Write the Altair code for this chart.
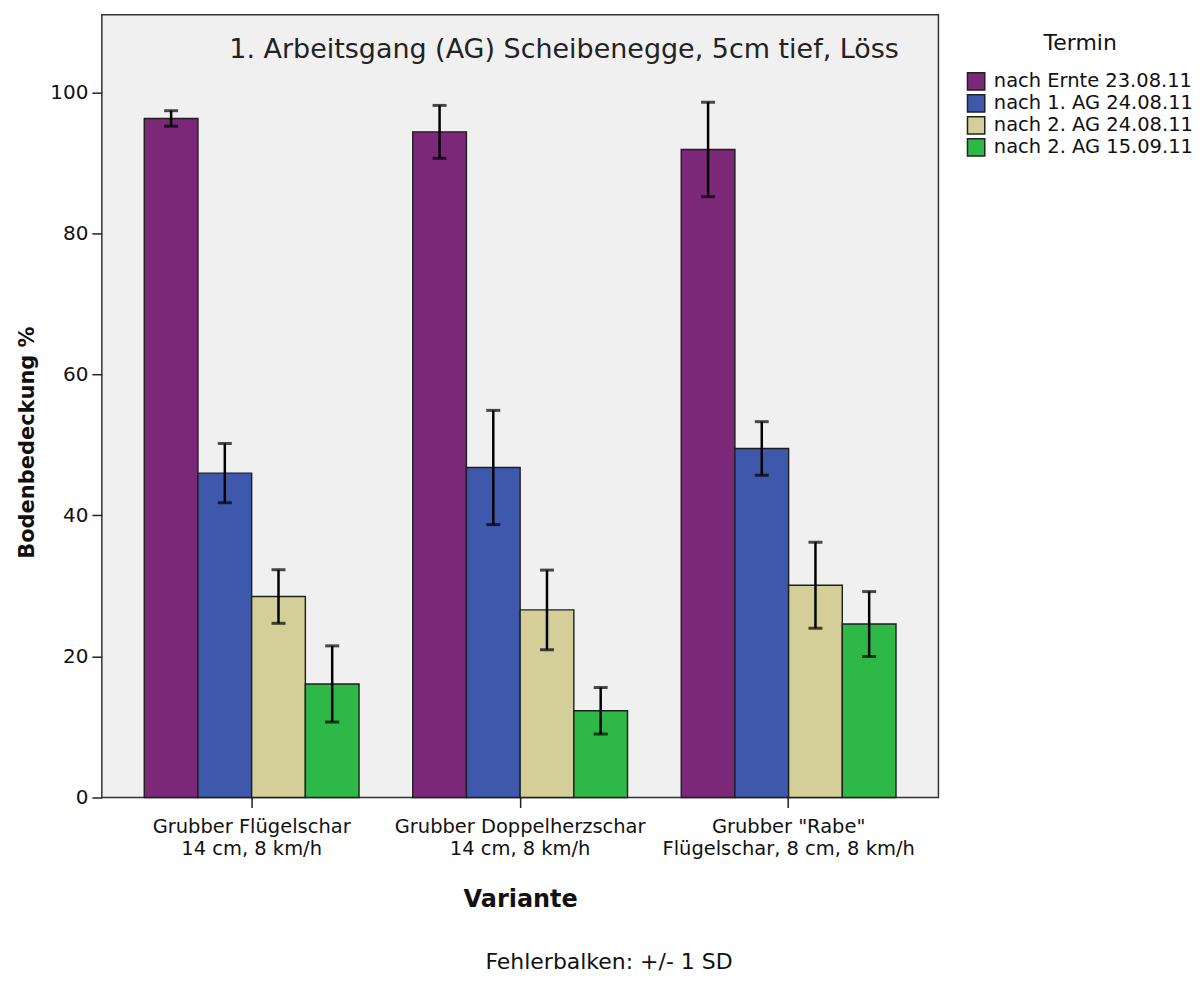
import altair as alt
import pandas as pd

# ---- data ----
varianten = [
    "Grubber Flügelschar|14 cm, 8 km/h",
    "Grubber Doppelherzschar|14 cm, 8 km/h",
    'Grubber "Rabe"|Flügelschar, 8 cm, 8 km/h',
]
termine = [
    "nach Ernte 23.08.11",
    "nach 1. AG 24.08.11",
    "nach 2. AG 24.08.11",
    "nach 2. AG 15.09.11",
]
mean_ernte = [96.3, 94.4, 91.9]
mean_ag1 = [46.0, 46.8, 49.5]
mean_ag2a = [28.5, 26.6, 30.1]
mean_ag2b = [16.1, 12.3, 24.6]
sd_ernte = [1.1, 3.75, 6.7]
sd_ag1 = [4.2, 8.1, 3.8]
sd_ag2a = [3.8, 5.65, 6.1]
sd_ag2b = [5.4, 3.3, 4.6]
farben = ["#7B2878", "#3E58AC", "#D4CF98", "#2EB848"]

means = [mean_ernte, mean_ag1, mean_ag2a, mean_ag2b]
sds = [sd_ernte, sd_ag1, sd_ag2a, sd_ag2b]

rows = []
for ti, t in enumerate(termine):
    for vi, v in enumerate(varianten):
        m = means[ti][vi]
        s = sds[ti][vi]
        rows.append({"Variante": v, "Termin": t, "Wert": m, "lo": m - s, "hi": m + s})
df = pd.DataFrame(rows)

FONT = "DejaVu Sans"
W, H = 838, 784

x_enc = alt.X(
    "Variante:N",
    sort=varianten,
    scale=alt.Scale(paddingInner=0.2, paddingOuter=0.158),
    axis=alt.Axis(
        title="Variante",
        labelExpr="split(datum.label, '|')",
        labelAngle=0,
        labelLimit=0,
        labelFont=FONT,
        labelFontSize=19.5,
        labelLineHeight=22,
        labelColor="#111",
        labelPadding=10,
        tickSize=10,
        tickColor="#222",
        tickWidth=1.5,
        domain=False,
        titleFont=FONT,
        titleFontSize=24,
        titleFontWeight="bold",
        titleColor="#111",
        titlePadding=30,
    ),
)
xoff = alt.XOffset("Termin:N", sort=termine)

y_scale = alt.Scale(domain=[0, 111], nice=False, zero=True)

bars = alt.Chart(df).mark_bar(stroke="#1e1e1e", strokeWidth=1.4).encode(
    x=x_enc,
    xOffset=xoff,
    y=alt.Y(
        "Wert:Q",
        scale=y_scale,
        axis=alt.Axis(
            title="Bodenbedeckung %",
            values=[0, 20, 40, 60, 80, 100],
            grid=False,
            domain=False,
            tickSize=10,
            tickColor="#222",
            tickWidth=1.5,
            labelFont=FONT,
            labelFontSize=20,
            labelColor="#111",
            labelPadding=4,
            titleFont=FONT,
            titleFontSize=21,
            titleFontWeight="bold",
            titleColor="#111",
            titleX=-74,
            titleY=428,
            titleAngle=270,
            titleAlign="center",
            titleBaseline="middle",
        ),
    ),
    color=alt.Color(
        "Termin:N",
        sort=termine,
        scale=alt.Scale(domain=termine, range=farben),
        legend=alt.Legend(
            title="Termin",
            orient="none",
            legendX=866,
            legendY=18,
            titleFont=FONT,
            titleFontSize=22,
            titleFontWeight="normal",
            titleColor="#111",
            titleAnchor="middle",
            titlePadding=17,
            labelFont=FONT,
            labelFontSize=19.5,
            labelColor="#111",
            labelLimit=0,
            labelOffset=8,
            symbolType="square",
            symbolSize=300,
            symbolStrokeColor="#222",
            symbolStrokeWidth=1.5,
            rowPadding=-2,
            symbolOpacity=1,
        ),
    ),
)

rules = alt.Chart(df).mark_rule(color="black", strokeWidth=2.5).encode(
    x=alt.X("Variante:N", sort=varianten),
    xOffset=xoff,
    y=alt.Y("lo:Q", scale=y_scale),
    y2="hi:Q",
)

caps_lo = alt.Chart(df).mark_tick(color="black", orient="horizontal", size=14, thickness=3).encode(
    x=alt.X("Variante:N", sort=varianten),
    xOffset=xoff,
    y=alt.Y("lo:Q", scale=y_scale),
)
caps_hi = alt.Chart(df).mark_tick(color="black", orient="horizontal", size=14, thickness=3).encode(
    x=alt.X("Variante:N", sort=varianten),
    xOffset=xoff,
    y=alt.Y("hi:Q", scale=y_scale),
)

fuss = alt.Chart(pd.DataFrame({"t": ["Fehlerbalken: +/- 1 SD"]})).mark_text(
    font=FONT, fontSize=22, color="#111", baseline="middle", align="center"
).encode(
    x=alt.value(508),
    y=alt.value(949),
    text="t:N",
)

chart = (
    alt.layer(bars, rules, caps_lo, caps_hi, fuss)
    .properties(
        width=W,
        height=H,
        autosize=alt.AutoSizeParams(type="none"),
        padding={"left": 94, "top": 6, "right": 255, "bottom": 180},
        title=alt.TitleParams(
            text="1. Arbeitsgang (AG) Scheibenegge, 5cm tief, Löss",
            font=FONT,
            fontSize=27,
            fontWeight="normal",
            color="#222",
            anchor="middle",
            frame="group",
            dx=44,
            dy=53,
        ),
    )
    .configure(
        background="white",
        view=alt.ViewConfig(fill="#F0F0F0", stroke="#333333", strokeWidth=1.5),
    )
)

chart.save("out.html", embed_options={"renderer": "svg", "actions": False})
